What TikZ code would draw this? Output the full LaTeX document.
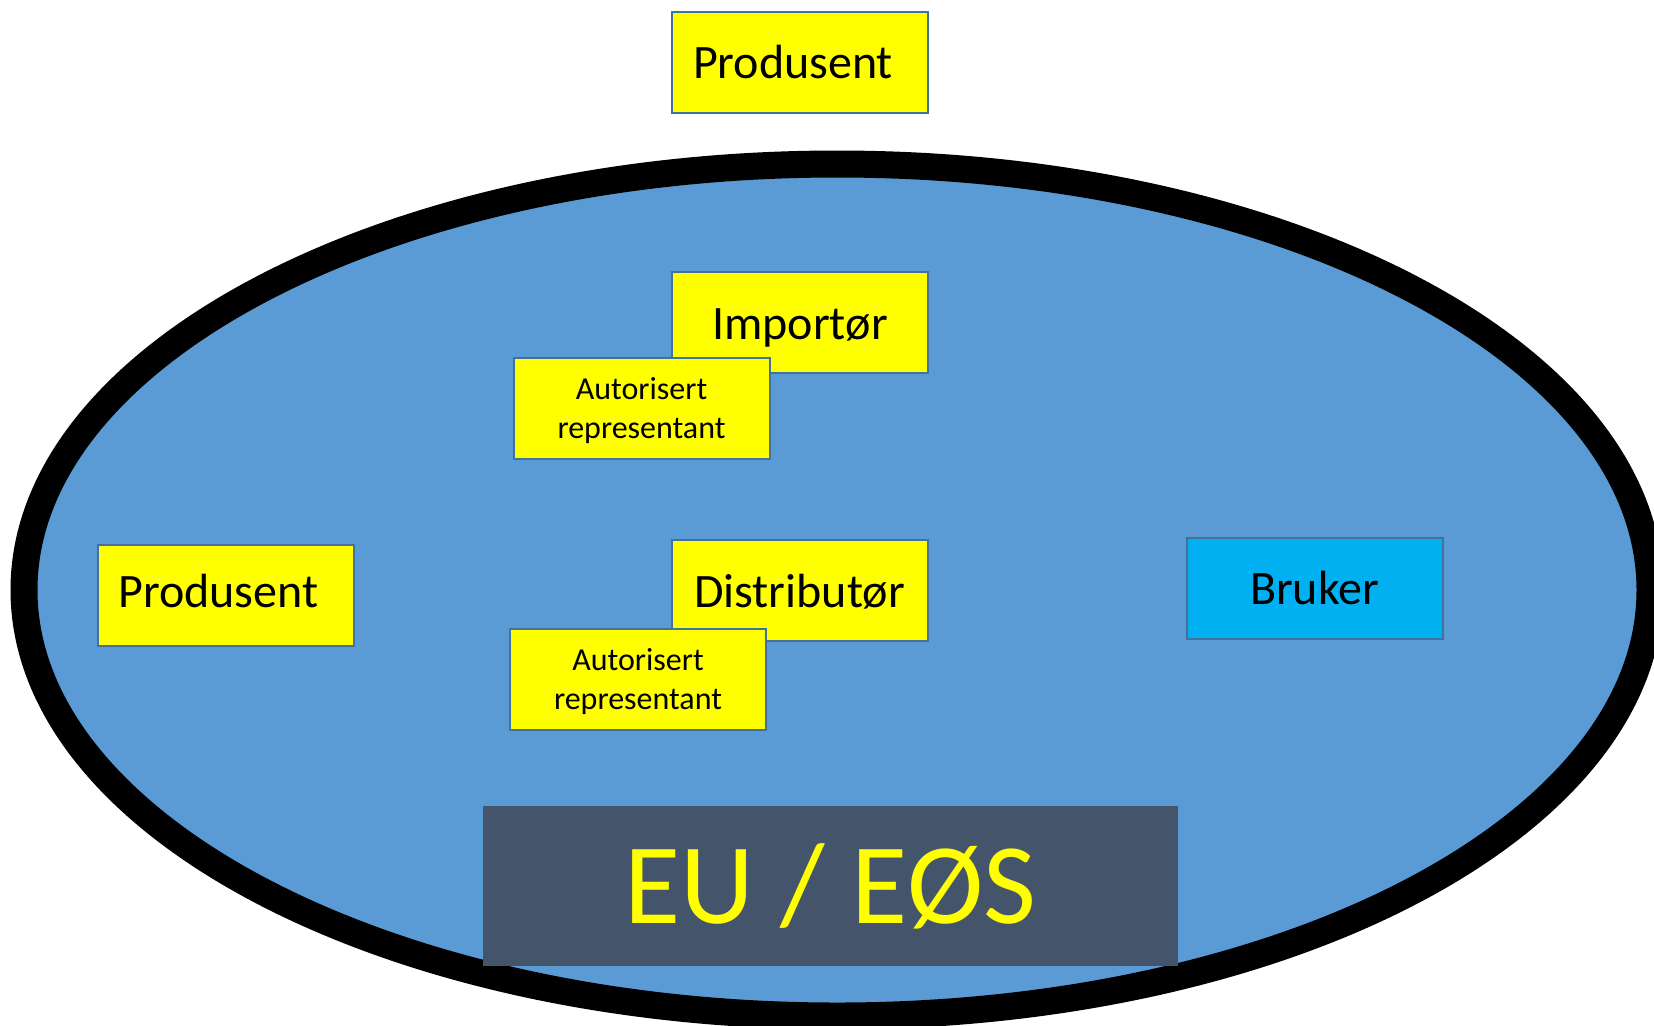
\documentclass[tikz,border=0pt]{standalone}
\usepackage{fontspec}
\setmainfont{Carlito}
\definecolor{ellfill}{HTML}{5B9BD5}
\definecolor{boxline}{HTML}{41719C}
\definecolor{yel}{HTML}{FFFF00}
\definecolor{brukerfill}{HTML}{00B0F0}
\definecolor{darkbox}{HTML}{44546A}
\tikzset{
  basebox/.style={draw=boxline, line width=1pt, fill=yel, rectangle, minimum width=128pt, minimum height=50.5pt, inner sep=0pt, align=center},
  rolebox/.style={basebox, font=\fontsize{24}{29}\selectfont, text height=16.5pt, text depth=0pt},
  smallbox/.style={basebox, font=\fontsize{16}{19.5}\selectfont},
  userbox/.style={rolebox, fill=brukerfill},
  regionbox/.style={rectangle, fill=darkbox, minimum width=347.5pt, minimum height=80pt, inner sep=0pt, text=yel, font=\fontsize{57.5}{60}\selectfont}
}
\newcommand{\twoline}[2]{\begin{tabular}{@{}c@{}}\rule{0pt}{17pt}#1\\#2\end{tabular}}
\begin{document}
\begin{tikzpicture}[x=0.5pt,y=-0.5pt]
\useasboundingbox (0,0) rectangle (1654,1025);
\clip (0,0) rectangle (1654,1025);
\fill[white] (0,0) rectangle (1654,1025);
\draw[line width=13.5pt, fill=ellfill] (837,590) ellipse [x radius=406.5pt, y radius=213pt];
\node[rolebox] (prodtop) at (800,62) {Produsent\hspace{7pt}};
\node[rolebox] (imp) at (800,322.5) {Importør};
\node[smallbox] (aut1) at (641.5,408) {\twoline{Autorisert}{representant}};
\node[rolebox, text height=12.5pt] (prodl) at (225.5,595) {Produsent\hspace{7pt}};
\node[rolebox] (dist) at (799.5,590.5) {Distributør};
\node[smallbox] (aut2) at (638,679) {\twoline{Autorisert}{representant}};
\node[userbox] (bruker) at (1314.5,588) {Bruker};
\node[regionbox] (eu) at (830.5,886) {EU / EØS};
\end{tikzpicture}
\end{document}
